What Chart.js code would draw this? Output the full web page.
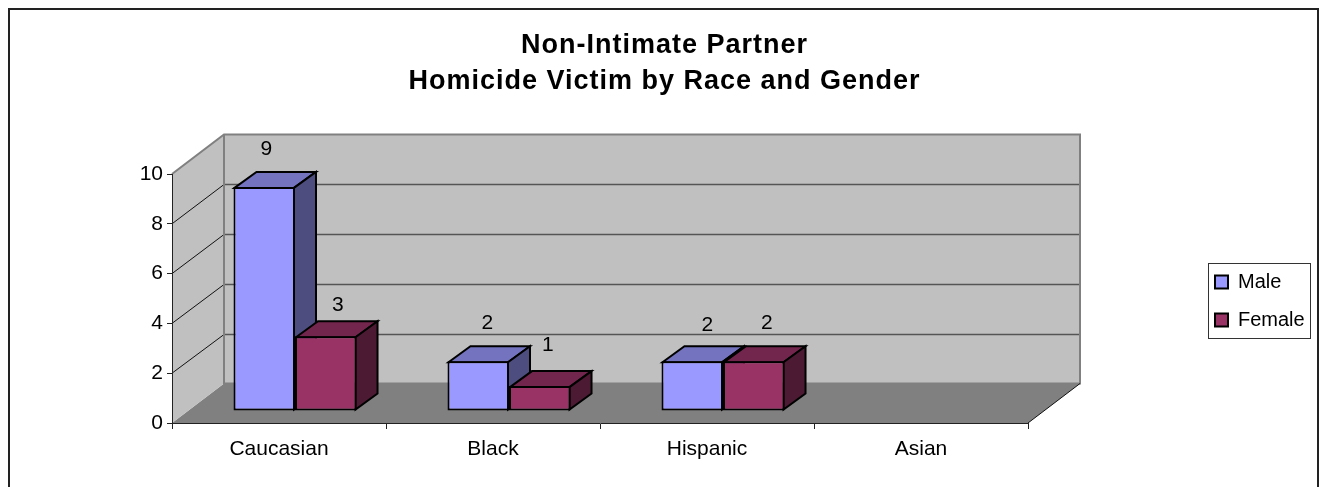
<!DOCTYPE html>
<html>
<head>
<meta charset="utf-8">
<title>Homicide Victim by Race and Gender</title>
<script src="https://cdn.jsdelivr.net/npm/chart.js@4/dist/chart.umd.min.js"></script>
<style>
body{margin:0;background:#fff;}
canvas{display:block;}
</style>
</head>
<body>
<canvas id="myChart" width="1320" height="487"></canvas>
<script>
const categories=['Caucasian','Black','Hispanic','Asian'];
const male=[9,2,2,null];
const female=[3,1,2,null];
const yTicks=[0,2,4,6,8,10];
const titleLines=['Non-Intimate Partner','Homicide Victim by Race and Gender'];

// how far the picture pushes things into the "depth" of the fake 3d box
const wallShift={x:52,y:-39.5};
const barShift={x:16,y:-12};
const barDepth={x:22,y:-16};
// excel put the data labels in odd places, so nudge each one by hand
const labelNudge=[
    [[18,-50],[25,-50],[31,-48],null],
    [[28,-43],[24,-53],[29,-50],null]
];
const faceColors=[
    {top:'#7373bf',side:'#4d4d80'},
    {top:'#73264d',side:'#4d1a33'}
];
const legendBox={left:1208.5,top:263.5,width:102,height:75};

function poly(ctx,pts,fill,stroke,lw){
    ctx.beginPath();
    pts.forEach((p,i)=>{ i==0 ? ctx.moveTo(p[0],p[1]) : ctx.lineTo(p[0],p[1]); });
    ctx.closePath();
    if(fill){ ctx.fillStyle=fill; ctx.fill(); }
    if(stroke){ ctx.strokeStyle=stroke; ctx.lineWidth=lw; ctx.lineJoin='miter'; ctx.stroke(); }
}

const box3d={
    id:'box3d',
    afterLayout(chart){
        // legend and title don't sit where the layout boxes want them
        const lg=chart.legend;
        lg.left=legendBox.left-11.5;
        lg.top=254;
        lg.right=lg.left+lg.width;
        lg.bottom=lg.top+lg.height;
        lg.adjustHitBoxes();
        const tb=chart.titleBlock;
        tb.left=9;
        tb.right=1320;
        if(!tb.spaced){
            tb.spaced=true;
            const drawTitle=tb.draw.bind(tb);
            tb.draw=function(){
                chart.ctx.letterSpacing='1px';
                drawTitle();
                chart.ctx.letterSpacing='0px';
            };
        }
    },
    beforeDraw(chart){
        const ctx=chart.ctx;
        ctx.save();
        ctx.fillStyle='#fff';
        ctx.fillRect(0,0,chart.width,chart.height);
        ctx.strokeStyle='#222';
        ctx.lineWidth=2;
        ctx.strokeRect(9,9,1309,520);
        ctx.restore();
    },
    beforeDatasetsDraw(chart){
        const ctx=chart.ctx;
        const a=chart.chartArea;
        const y=chart.scales.y;
        const dx=wallShift.x, dy=wallShift.y;
        const y0=y.getPixelForValue(0), yMax=y.getPixelForValue(10);
        ctx.save();
        // floor
        poly(ctx,[[a.left,y0],[a.left+dx,y0+dy],[a.right+dx,y0+dy],[a.right,y0]],'#808080');
        // side wall and back wall
        poly(ctx,[[a.left,y0],[a.left+dx,y0+dy],[a.left+dx,yMax+dy],[a.left,yMax]],'#c0c0c0');
        ctx.fillStyle='#c0c0c0';
        ctx.fillRect(a.left+dx,yMax+dy,a.right-a.left,y0-yMax);
        // gridlines, back wall then side wall
        yTicks.forEach(v=>{
            if(v==0||v==10) return;
            const py=Math.round(y.getPixelForValue(v)+dy)+0.5;
            ctx.strokeStyle='#555';
            ctx.lineWidth=1.5;
            ctx.beginPath();
            ctx.moveTo(a.left+dx,py);
            ctx.lineTo(a.right+dx,py);
            ctx.stroke();
            ctx.strokeStyle='#111';
            ctx.lineWidth=1;
            ctx.beginPath();
            ctx.moveTo(a.left,y.getPixelForValue(v));
            ctx.lineTo(a.left+dx,py);
            ctx.stroke();
        });
        // wall outline
        ctx.strokeStyle='#808080';
        ctx.lineWidth=2;
        ctx.beginPath();
        ctx.moveTo(a.left,yMax);
        ctx.lineTo(a.left+dx,yMax+dy);
        ctx.lineTo(a.right+dx,yMax+dy);
        ctx.lineTo(a.right+dx,y0+dy);
        ctx.lineTo(a.left+dx,y0+dy);
        ctx.lineTo(a.left+dx,yMax+dy);
        ctx.stroke();
        // floor edge on the right
        ctx.strokeStyle='#111';
        ctx.lineWidth=1;
        ctx.beginPath();
        ctx.moveTo(a.right,y0);
        ctx.lineTo(a.right+dx,y0+dy);
        ctx.stroke();

        // top and side faces, male first so female sits over it.
        // the fronts get drawn by chart.js afterwards
        ctx.translate(barShift.x,barShift.y);
        chart.data.datasets.forEach((ds,d)=>{
            const c=faceColors[d];
            chart.getDatasetMeta(d).data.forEach((bar,i)=>{
                if(ds.data[i]==null) return;
                const l=bar.x-bar.width/2+1, r=bar.x+bar.width/2-1;
                const t=bar.y+1, b=bar.base-1;
                const ddx=barDepth.x, ddy=barDepth.y;
                poly(ctx,[[l,t],[l+ddx,t+ddy],[r+ddx,t+ddy],[r,t]],c.top,'#000',2);
                poly(ctx,[[r,t],[r+ddx,t+ddy],[r+ddx,b+ddy],[r,b]],c.side,'#000',2);
            });
        });
        ctx.restore();
    },
    beforeDatasetDraw(chart){
        chart.ctx.save();
        chart.ctx.translate(barShift.x,barShift.y);
    },
    afterDatasetDraw(chart){
        chart.ctx.restore();
    },
    afterDatasetsDraw(chart){
        const ctx=chart.ctx;
        ctx.save();
        ctx.font='21px "Liberation Sans"';
        ctx.fillStyle='#000';
        ctx.textAlign='center';
        ctx.textBaseline='middle';
        chart.data.datasets.forEach((ds,d)=>{
            chart.getDatasetMeta(d).data.forEach((bar,i)=>{
                if(ds.data[i]==null) return;
                const n=labelNudge[d][i];
                ctx.fillText(ds.data[i],bar.x+n[0],bar.y+n[1]);
            });
        });
        ctx.restore();
    },
    afterDraw(chart){
        const ctx=chart.ctx;
        ctx.save();
        ctx.strokeStyle='#333';
        ctx.lineWidth=1;
        ctx.strokeRect(legendBox.left,legendBox.top,legendBox.width,legendBox.height);
        ctx.restore();
    }
};

new Chart(document.querySelector('#myChart'),{
    type:'bar',
    data:{
        labels:categories,
        datasets:[
            {label:'Male',data:male,backgroundColor:'#9999ff',borderColor:'#000',borderWidth:2,borderSkipped:false,clip:false},
            {label:'Female',data:female,backgroundColor:'#993366',borderColor:'#000',borderWidth:2,borderSkipped:false,clip:false}
        ]
    },
    plugins:[box3d],
    options:{
        responsive:false,
        animation:false,
        categoryPercentage:0.575,
        barPercentage:1,
        layout:{padding:{left:0,right:292,top:0,bottom:0}},
        font:{family:'"Liberation Sans"'},
        plugins:{
            tooltip:{enabled:false},
            title:{
                display:true,
                text:titleLines,
                color:'#000',
                font:{family:'"Liberation Sans"',size:27,weight:'bold',lineHeight:36.5/27},
                padding:{top:27,bottom:74}
            },
            legend:{
                position:'chartArea',
                align:'start',
                maxWidth:125,
                maxHeight:130,
                labels:{
                    color:'#000',
                    boxWidth:13,
                    boxHeight:13,
                    padding:18,
                    font:{family:'"Liberation Sans"',size:20}
                }
            }
        },
        scales:{
            x:{
                afterFit(s){ s.height=64; },
                grid:{drawOnChartArea:false,color:'#222',tickLength:6,z:1},
                border:{color:'#222',z:1},
                ticks:{color:'#000',padding:8,font:{family:'"Liberation Sans"',size:21}}
            },
            y:{
                min:0,
                max:10,
                afterFit(s){ s.width=172; },
                grid:{drawOnChartArea:false,color:'#222',tickLength:5,z:1},
                border:{color:'#222',z:1},
                ticks:{color:'#000',stepSize:2,padding:4,font:{family:'"Liberation Sans"',size:21}}
            }
        }
    }
});
</script>
</body>
</html>
